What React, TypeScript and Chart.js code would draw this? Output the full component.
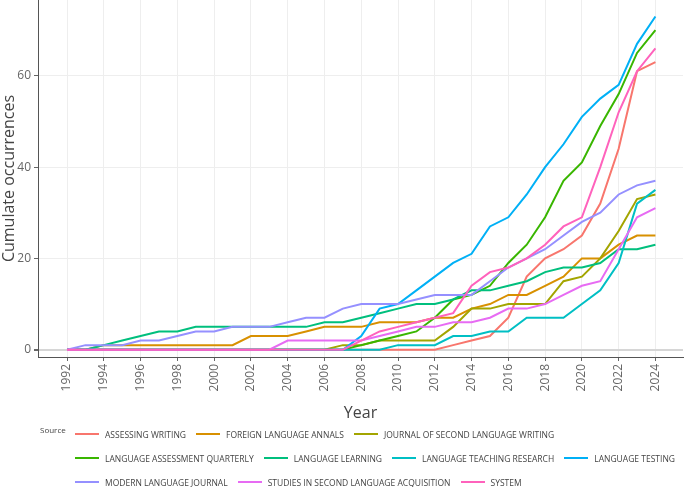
import React, { useEffect, useRef } from "react";
import { Chart, registerables } from "chart.js";

Chart.register(...registerables);

const years = [
  1992, 1993, 1994, 1995, 1996, 1997, 1998, 1999, 2000, 2001, 2002, 2003, 2004,
  2005, 2006, 2007, 2008, 2009, 2010, 2011, 2012, 2013, 2014, 2015, 2016, 2017,
  2018, 2019, 2020, 2021, 2022, 2023, 2024,
];

const sources = [
  "ASSESSING WRITING",
  "FOREIGN LANGUAGE ANNALS",
  "JOURNAL OF SECOND LANGUAGE WRITING",
  "LANGUAGE ASSESSMENT QUARTERLY",
  "LANGUAGE LEARNING",
  "LANGUAGE TEACHING RESEARCH",
  "LANGUAGE TESTING",
  "MODERN LANGUAGE JOURNAL",
  "STUDIES IN SECOND LANGUAGE ACQUISITION",
  "SYSTEM",
];

const colors = [
  "#F8766D", "#D89000", "#A3A500", "#39B600", "#00BF7D",
  "#00BFC4", "#00B0F6", "#9590FF", "#E76BF3", "#FF62BC",
];

// 1992 .. 2024
const assessingWriting = [0,0,0,0,0,0,0,0,0,0,0,0,0,0,0,0,0,0,0,0,0,1,2,3,7,16,20,22,25,32,44,61,63];
const foreignLanguageAnnals = [0,0,1,1,1,1,1,1,1,1,3,3,3,4,5,5,5,6,6,6,7,7,9,10,12,12,14,16,20,20,23,25,25];
const journalSecondLanguageWriting = [0,0,0,0,0,0,0,0,0,0,0,0,0,0,0,1,1,2,2,2,2,5,9,9,10,10,10,15,16,20,26,33,34];
const languageAssessmentQuarterly = [0,0,0,0,0,0,0,0,0,0,0,0,0,0,0,0,1,2,3,4,7,11,12,14,19,23,29,37,41,49,56,65,70];
const languageLearning = [0,0,1,2,3,4,4,5,5,5,5,5,5,5,6,6,7,8,9,10,10,11,13,13,14,15,17,18,18,19,22,22,23];
const languageTeachingResearch = [0,0,0,0,0,0,0,0,0,0,0,0,0,0,0,0,0,0,1,1,1,3,3,4,4,7,7,7,10,13,19,32,35];
const languageTesting = [0,0,0,0,0,0,0,0,0,0,0,0,0,0,0,0,3,9,10,13,16,19,21,27,29,34,40,45,51,55,58,67,73];
const modernLanguageJournal = [0,1,1,1,2,2,3,4,4,5,5,5,6,7,7,9,10,10,10,11,12,12,12,15,18,20,22,25,28,30,34,36,37];
const studiesSLA = [0,0,0,0,0,0,0,0,0,0,0,0,2,2,2,2,2,3,4,5,5,6,6,7,9,9,10,12,14,15,22,29,31];
const systemJournal = [0,0,0,0,0,0,0,0,0,0,0,0,0,0,0,0,2,4,5,6,7,8,14,17,18,20,23,27,29,40,52,61,66];

const seriesValues = [
  assessingWriting,
  foreignLanguageAnnals,
  journalSecondLanguageWriting,
  languageAssessmentQuarterly,
  languageLearning,
  languageTeachingResearch,
  languageTesting,
  modernLanguageJournal,
  studiesSLA,
  systemJournal,
];

const xTickValues = [1992, 1994, 1996, 1998, 2000, 2002, 2004, 2006, 2008, 2010, 2012, 2014, 2016, 2018, 2020, 2022, 2024];
const yTickValues = [0, 20, 40, 60];

const FONT = "'Open Sans', 'DejaVu Sans', sans-serif";
const CANVAS_W = 685;
const CANVAS_H = 425;

export default function App() {
  const canvasRef = useRef<HTMLCanvasElement | null>(null);

  useEffect(() => {
    if (!canvasRef.current) return;
    const datasets = sources.map((name, i) => ({
      label: name,
      data: years.map((yr, j) => ({ x: yr, y: seriesValues[i][j] })),
      borderColor: colors[i],
      backgroundColor: colors[i],
      borderWidth: 2,
      pointRadius: 0,
      pointHoverRadius: 0,
      tension: 0,
      fill: false,
      order: sources.length - i,
    }));

    const chart = new Chart(canvasRef.current, {
      type: "line",
      data: { datasets },
      options: {
        animation: false,
        responsive: false,
        maintainAspectRatio: false,
        devicePixelRatio: 1,
        layout: { padding: { left: 0, right: 2, top: 0, bottom: 0 } },
        plugins: {
          legend: { display: false },
          tooltip: { enabled: false },
          title: { display: false },
        },
        scales: {
          x: {
            type: "linear",
            min: 1990.42,
            max: 2025.5,
            afterBuildTicks: (scale: any) => {
              scale.ticks = xTickValues.map((v) => ({ value: v }));
            },
            afterFit: (scale: any) => {
              scale.height = CANVAS_H - 357;
              scale.paddingLeft = 0;
              scale.paddingRight = 0;
            },
            ticks: {
              minRotation: 90,
              maxRotation: 90,
              autoSkip: false,
              padding: 3,
              color: "#666",
              font: { family: FONT, size: 12 },
              callback: (v: any) => String(v),
            },
            grid: {
              color: "#eeeeee",
              lineWidth: 1,
              tickLength: 4,
              tickColor: "#666",
              drawTicks: true,
            },
            border: { display: true, color: "#555", width: 1 },
            title: {
              display: true,
              text: "Year",
              color: "#444",
              font: { family: FONT, size: 16 },
              padding: { top: 0, bottom: 2 },
            },
          },
          y: {
            type: "linear",
            min: -1.6,
            max: 76.6,
            afterBuildTicks: (scale: any) => {
              scale.ticks = yTickValues.map((v) => ({ value: v }));
            },
            afterFit: (scale: any) => {
              scale.width = 38;
              scale.paddingTop = 0;
              scale.paddingBottom = 0;
            },
            ticks: {
              padding: 3,
              color: "#666",
              font: { family: FONT, size: 12 },
              callback: (v: any) => String(v),
            },
            grid: {
              color: (ctx: any) => (ctx.tick && ctx.tick.value === 0 ? "#d6d6d6" : "#eeeeee"),
              lineWidth: (ctx: any) => (ctx.tick && ctx.tick.value === 0 ? 2 : 1),
              tickLength: 4,
              tickColor: "#666",
              drawTicks: true,
            },
            border: { display: true, color: "#555", width: 1 },
            title: {
              display: true,
              text: "Cumulate occurrences",
              color: "#444",
              font: { family: FONT, size: 16 },
              padding: { top: 0, bottom: 0 },
            },
          },
        },
      },
    });
    return () => chart.destroy();
  }, []);

  return (
    <div style={{ position: "absolute", left: 0, top: 0, width: 685, height: 487, background: "#fff", overflow: "hidden" }}>
      <canvas ref={canvasRef} width={CANVAS_W} height={CANVAS_H} style={{ position: "absolute", left: 0, top: 0, width: CANVAS_W, height: CANVAS_H }} />
      <div style={{ position: "absolute", left: 40, top: 424, fontFamily: FONT, fontSize: 8, color: "#444" }}>Source</div>
      <div
        style={{
          position: "absolute",
          left: 75,
          top: 426,
          width: 610,
          display: "flex",
          flexWrap: "wrap",
          columnGap: 10,
          rowGap: 8,
          fontFamily: FONT,
          fontSize: 8.5,
          color: "#444",
        }}
      >
        {sources.map((name, i) => (
          <div key={name} style={{ display: "flex", alignItems: "center", height: 16, whiteSpace: "nowrap" }}>
            <span style={{ display: "inline-block", width: 24, height: 2, background: colors[i], marginRight: 6 }} />
            <span>{name}</span>
          </div>
        ))}
      </div>
    </div>
  );
}
